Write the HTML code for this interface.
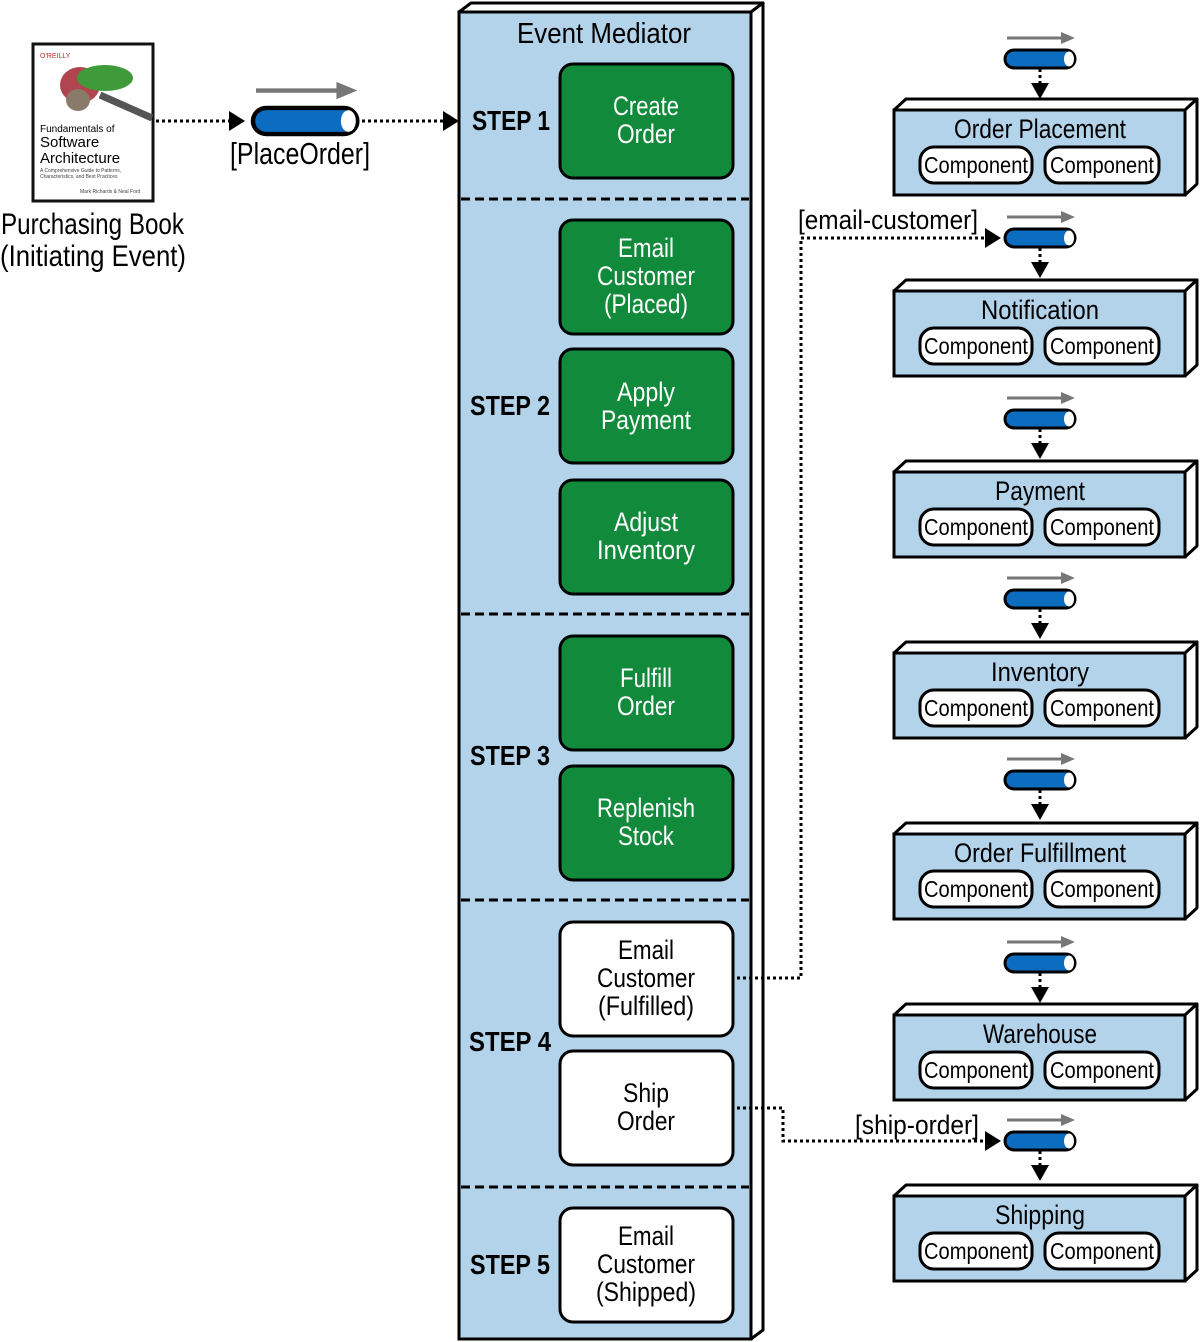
<!DOCTYPE html>
<html><head><meta charset="utf-8"><style>
html,body{margin:0;padding:0;background:#fff;}
svg{display:block;}
text{font-family:"Liberation Sans Narrow","Liberation Sans",sans-serif;}
</style></head><body>
<svg width="1200" height="1342" viewBox="0 0 1200 1342" xmlns="http://www.w3.org/2000/svg">
<defs>
<g id="q">
 <line x1="2" y1="-21" x2="58" y2="-21" stroke="#777" stroke-width="3"/>
 <path d="M56,-27 L70,-21 L56,-15 Z" fill="#777"/>
 <rect x="0" y="-9" width="70" height="18" rx="9" fill="#0b6cc0" stroke="#000" stroke-width="3"/>
 <ellipse cx="64" cy="0" rx="5" ry="7.5" fill="#fff"/>
</g>
<g id="svc">
 <path d="M0,0 L12,-11 L303,-11 L291,0 Z" fill="#fff" stroke="#000" stroke-width="3" stroke-linejoin="round"/>
 <path d="M291,0 L303,-11 L303,74 L291,85 Z" fill="#fff" stroke="#000" stroke-width="3" stroke-linejoin="round"/>
 <rect x="0" y="0" width="291" height="85" fill="#b3d3ea" stroke="#000" stroke-width="3"/>
 <rect x="26" y="37" width="112" height="36" rx="14" fill="#fff" stroke="#000" stroke-width="3"/>
 <rect x="151" y="37" width="114" height="36" rx="14" fill="#fff" stroke="#000" stroke-width="3"/>
 <text x="82" y="63" font-size="23" text-anchor="middle" textLength="104" lengthAdjust="spacingAndGlyphs">Component</text>
 <text x="208" y="63" font-size="23" text-anchor="middle" textLength="104" lengthAdjust="spacingAndGlyphs">Component</text>
</g>
</defs>

<!-- book -->
<rect x="33" y="44" width="120" height="157" fill="#fff" stroke="#111" stroke-width="3"/>
<text x="40" y="58" font-size="7" fill="#c0272d" font-family="Liberation Sans">O'REILLY</text>
<ellipse cx="80" cy="85" rx="20" ry="18" fill="#b0454f"/>
<ellipse cx="105" cy="78" rx="28" ry="13" fill="#3f9a3a"/>
<ellipse cx="78" cy="100" rx="12" ry="11" fill="#8a7a6a"/>
<line x1="100" y1="95" x2="152" y2="118" stroke="#555" stroke-width="7"/>
<text x="40" y="132" font-size="10" font-family="Liberation Sans">Fundamentals of</text>
<text x="40" y="147" font-size="15" font-family="Liberation Sans">Software</text>
<text x="40" y="163" font-size="15" font-family="Liberation Sans">Architecture</text>
<text x="40" y="172" font-size="5" fill="#444" font-family="Liberation Sans">A Comprehensive Guide to Patterns,</text>
<text x="40" y="178" font-size="5" fill="#444" font-family="Liberation Sans">Characteristics, and Best Practices</text>
<text x="80" y="193" font-size="5" fill="#444" font-family="Liberation Sans">Mark Richards &amp; Neal Ford</text>
<text x="1" y="234" font-size="30" textLength="183" lengthAdjust="spacingAndGlyphs">Purchasing Book</text>
<text x="0" y="266" font-size="30" textLength="186" lengthAdjust="spacingAndGlyphs">(Initiating Event)</text>

<line x1="156" y1="121" x2="229" y2="121" stroke="#000" stroke-width="3" stroke-dasharray="3,3"/>
<path d="M229,111 L245,121 L229,131 Z"/>
<g transform="translate(253,121) scale(1.49,1.45)"><use href="#q"/></g>
<text x="300" y="164" font-size="31" text-anchor="middle" textLength="140" lengthAdjust="spacingAndGlyphs">[PlaceOrder]</text>
<line x1="362" y1="121" x2="443" y2="121" stroke="#000" stroke-width="3" stroke-dasharray="3,3"/>
<path d="M443,111 L459,121 L443,131 Z"/>

<!-- mediator -->
<path d="M459,12 L471,3 L763,3 L751,12 Z" fill="#fff" stroke="#000" stroke-width="3" stroke-linejoin="round"/>
<path d="M751,12 L763,3 L763,1330 L751,1339 Z" fill="#fff" stroke="#000" stroke-width="3" stroke-linejoin="round"/>
<rect x="459" y="12" width="292" height="1327" fill="#b3d3ea" stroke="#000" stroke-width="3"/>
<text x="604" y="43" font-size="29" text-anchor="middle" textLength="174" lengthAdjust="spacingAndGlyphs">Event Mediator</text>
<g stroke="#000" stroke-width="3" stroke-dasharray="9,5">
<line x1="461" y1="199" x2="749" y2="199"/>
<line x1="461" y1="614" x2="749" y2="614"/>
<line x1="461" y1="900" x2="749" y2="900"/>
<line x1="461" y1="1187" x2="749" y2="1187"/>
</g>
<g font-size="28" font-weight="bold">
<text x="472" y="130" textLength="78" lengthAdjust="spacingAndGlyphs">STEP 1</text>
<text x="470" y="415" textLength="80" lengthAdjust="spacingAndGlyphs">STEP 2</text>
<text x="470" y="765" textLength="80" lengthAdjust="spacingAndGlyphs">STEP 3</text>
<text x="469" y="1051" textLength="82" lengthAdjust="spacingAndGlyphs">STEP 4</text>
<text x="470" y="1274" textLength="80" lengthAdjust="spacingAndGlyphs">STEP 5</text>
</g>
<g stroke="#000" stroke-width="3">
<rect x="560" y="64" width="173" height="114" rx="13" fill="#118a3c"/>
<rect x="560" y="220" width="173" height="114" rx="13" fill="#118a3c"/>
<rect x="560" y="349" width="173" height="114" rx="13" fill="#118a3c"/>
<rect x="560" y="480" width="173" height="114" rx="13" fill="#118a3c"/>
<rect x="560" y="636" width="173" height="114" rx="13" fill="#118a3c"/>
<rect x="560" y="766" width="173" height="114" rx="13" fill="#118a3c"/>
<rect x="560" y="922" width="173" height="114" rx="13" fill="#fff"/>
<rect x="560" y="1051" width="173" height="114" rx="13" fill="#fff"/>
<rect x="560" y="1208" width="173" height="114" rx="13" fill="#fff"/>
</g>
<g font-size="27" text-anchor="middle" fill="#fff" lengthAdjust="spacingAndGlyphs">
<text x="646" y="115" textLength="66" lengthAdjust="spacingAndGlyphs">Create</text><text x="646" y="143" textLength="58" lengthAdjust="spacingAndGlyphs">Order</text>
<text x="646" y="257" textLength="56" lengthAdjust="spacingAndGlyphs">Email</text><text x="646" y="285" textLength="98" lengthAdjust="spacingAndGlyphs">Customer</text><text x="646" y="313" textLength="84" lengthAdjust="spacingAndGlyphs">(Placed)</text>
<text x="646" y="401" textLength="58" lengthAdjust="spacingAndGlyphs">Apply</text><text x="646" y="429" textLength="90" lengthAdjust="spacingAndGlyphs">Payment</text>
<text x="646" y="531" textLength="64" lengthAdjust="spacingAndGlyphs">Adjust</text><text x="646" y="559" textLength="98" lengthAdjust="spacingAndGlyphs">Inventory</text>
<text x="646" y="687" textLength="52" lengthAdjust="spacingAndGlyphs">Fulfill</text><text x="646" y="715" textLength="58" lengthAdjust="spacingAndGlyphs">Order</text>
<text x="646" y="817" textLength="98" lengthAdjust="spacingAndGlyphs">Replenish</text><text x="646" y="845" textLength="56" lengthAdjust="spacingAndGlyphs">Stock</text>
</g>
<g font-size="27" text-anchor="middle" fill="#000">
<text x="646" y="959" textLength="56" lengthAdjust="spacingAndGlyphs">Email</text><text x="646" y="987" textLength="98" lengthAdjust="spacingAndGlyphs">Customer</text><text x="646" y="1015" textLength="96" lengthAdjust="spacingAndGlyphs">(Fulfilled)</text>
<text x="646" y="1102" textLength="46" lengthAdjust="spacingAndGlyphs">Ship</text><text x="646" y="1130" textLength="58" lengthAdjust="spacingAndGlyphs">Order</text>
<text x="646" y="1245" textLength="56" lengthAdjust="spacingAndGlyphs">Email</text><text x="646" y="1273" textLength="98" lengthAdjust="spacingAndGlyphs">Customer</text><text x="646" y="1301" textLength="100" lengthAdjust="spacingAndGlyphs">(Shipped)</text>
</g>

<!-- connectors -->
<g stroke="#000" stroke-width="3" stroke-dasharray="3,3" fill="none">
<polyline points="737,978 801,978 801,238 985,238"/>
<polyline points="737,1108 783,1108 783,1141 985,1141"/>
</g>
<path d="M985,228 L1001,238 L985,248 Z"/>
<path d="M985,1131 L1001,1141 L985,1151 Z"/>
<text x="888" y="229" font-size="27" text-anchor="middle" textLength="180" lengthAdjust="spacingAndGlyphs">[email-customer]</text>
<text x="917" y="1134" font-size="27" text-anchor="middle" textLength="124" lengthAdjust="spacingAndGlyphs">[ship-order]</text>

<!-- services -->
<g>
<use href="#q" x="1005" y="59"/>
<use href="#q" x="1005" y="238"/>
<use href="#q" x="1005" y="419"/>
<use href="#q" x="1005" y="599"/>
<use href="#q" x="1005" y="780"/>
<use href="#q" x="1005" y="963"/>
<use href="#q" x="1005" y="1141"/>
</g>
<g stroke="#000" stroke-width="3" stroke-dasharray="3,3">
<line x1="1040" y1="69" x2="1040" y2="84"/>
<line x1="1040" y1="248" x2="1040" y2="263"/>
<line x1="1040" y1="429" x2="1040" y2="444"/>
<line x1="1040" y1="609" x2="1040" y2="624"/>
<line x1="1040" y1="790" x2="1040" y2="805"/>
<line x1="1040" y1="973" x2="1040" y2="988"/>
<line x1="1040" y1="1151" x2="1040" y2="1166"/>
</g>
<g>
<path d="M1031,83 L1049,83 L1040,99 Z"/>
<path d="M1031,262 L1049,262 L1040,278 Z"/>
<path d="M1031,443 L1049,443 L1040,459 Z"/>
<path d="M1031,623 L1049,623 L1040,639 Z"/>
<path d="M1031,804 L1049,804 L1040,820 Z"/>
<path d="M1031,987 L1049,987 L1040,1003 Z"/>
<path d="M1031,1165 L1049,1165 L1040,1181 Z"/>
</g>
<use href="#svc" x="894" y="110"/>
<use href="#svc" x="894" y="291"/>
<use href="#svc" x="894" y="472"/>
<use href="#svc" x="894" y="653"/>
<use href="#svc" x="894" y="834"/>
<use href="#svc" x="894" y="1015"/>
<use href="#svc" x="894" y="1196"/>
<g font-size="27" text-anchor="middle">
<text x="1040" y="138" textLength="172" lengthAdjust="spacingAndGlyphs">Order Placement</text>
<text x="1040" y="319" textLength="118" lengthAdjust="spacingAndGlyphs">Notification</text>
<text x="1040" y="500" textLength="90" lengthAdjust="spacingAndGlyphs">Payment</text>
<text x="1040" y="681" textLength="98" lengthAdjust="spacingAndGlyphs">Inventory</text>
<text x="1040" y="862" textLength="172" lengthAdjust="spacingAndGlyphs">Order Fulfillment</text>
<text x="1040" y="1043" textLength="114" lengthAdjust="spacingAndGlyphs">Warehouse</text>
<text x="1040" y="1224" textLength="90" lengthAdjust="spacingAndGlyphs">Shipping</text>
</g>
</svg>
</body></html>
